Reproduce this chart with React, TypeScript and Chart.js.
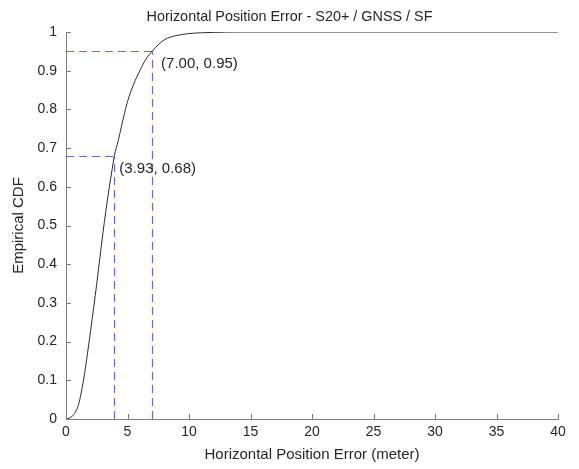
import React, { useEffect, useRef } from "react";
import { Chart, registerables } from "chart.js";

Chart.register(...registerables);

// ---- data ----
const errorMeters = [0, 0.25, 0.5, 0.75, 1, 1.25, 1.5, 1.75, 2, 2.25, 2.5, 2.75, 3, 3.25, 3.5, 3.75, 3.93, 4.25, 4.5, 5, 5.5, 6, 6.5, 7, 7.5, 8, 8.5, 9, 10, 11, 12, 14, 16, 20, 40];
const cdfValues = [0, 0.002, 0.007, 0.017, 0.035, 0.07, 0.115, 0.17, 0.228, 0.288, 0.35, 0.415, 0.48, 0.54, 0.595, 0.645, 0.68, 0.72, 0.755, 0.82, 0.865, 0.9, 0.93, 0.95, 0.967, 0.98, 0.987, 0.991, 0.996, 0.998, 0.999, 1, 1, 1, 1];
const markerX = [3.93, 7.0];
const markerY = [0.68, 0.95];
const xTickValues = [0, 5, 10, 15, 20, 25, 30, 35, 40];
const yTickValues = [0, 0.1, 0.2, 0.3, 0.4, 0.5, 0.6, 0.7, 0.8, 0.9, 1];

const TITLE = "Horizontal Position Error - S20+ / GNSS / SF";
const X_LABEL = "Horizontal Position Error (meter)";
const Y_LABEL = "Empirical CDF";

// ---- style ----
const FONT = "'Liberation Sans', Arial, Helvetica, sans-serif";
const TEXT_COLOR = "#262626";
const AXIS_COLOR = "#7a7a7a";
const CURVE_COLOR = "#2b2b2b";
const MARK_COLOR = "#6a6ad6";
const LABEL_OFFSETS = [
  { dx: 5, dy: 13 },
  { dx: 9, dy: 13 },
];

const overlay = {
  id: "overlay",
  beforeDatasetsDraw(chart: any) {
    const { ctx, scales } = chart;
    const x = scales.x;
    const y = scales.y;
    ctx.save();
    ctx.strokeStyle = MARK_COLOR;
    ctx.lineWidth = 1.2;
    ctx.setLineDash([8, 5]);
    for (let i = 0; i < markerX.length; i++) {
      const px = Math.round(x.getPixelForValue(markerX[i])) + 0.5;
      const py = Math.round(y.getPixelForValue(markerY[i])) + 0.5;
      const x0 = x.getPixelForValue(0);
      const y0 = y.getPixelForValue(0);
      ctx.beginPath();
      ctx.moveTo(x0, py);
      ctx.lineTo(px, py);
      ctx.stroke();
      ctx.beginPath();
      ctx.moveTo(px, y0);
      ctx.lineTo(px, py);
      ctx.stroke();
    }
    ctx.restore();
  },
  afterDatasetsDraw(chart: any) {
    const { ctx, scales, chartArea, width } = chart;
    const x = scales.x;
    const y = scales.y;
    ctx.save();
    // inward tick marks
    ctx.strokeStyle = AXIS_COLOR;
    ctx.lineWidth = 1;
    xTickValues.forEach((v) => {
      const px = Math.round(x.getPixelForValue(v)) + 0.5;
      ctx.beginPath();
      ctx.moveTo(px, chartArea.bottom);
      ctx.lineTo(px, chartArea.bottom - 5);
      ctx.stroke();
    });
    yTickValues.forEach((v) => {
      const py = Math.round(y.getPixelForValue(v)) + 0.5;
      ctx.beginPath();
      ctx.moveTo(chartArea.left, py);
      ctx.lineTo(chartArea.left + 5, py);
      ctx.stroke();
    });
    // marker labels
    ctx.fillStyle = TEXT_COLOR;
    ctx.font = `15px ${FONT}`;
    ctx.textAlign = "left";
    ctx.textBaseline = "middle";
    for (let i = 0; i < markerX.length; i++) {
      const px = x.getPixelForValue(markerX[i]);
      const py = y.getPixelForValue(markerY[i]);
      const off = LABEL_OFFSETS[i];
      ctx.fillText(`(${markerX[i].toFixed(2)}, ${markerY[i].toFixed(2)})`, px + off.dx, py + off.dy);
    }
    // title (centred on the figure)
    ctx.font = `14.4px ${FONT}`;
    ctx.textAlign = "center";
    ctx.fillText(TITLE, width / 2, 17);
    ctx.restore();
  },
};

export default function App() {
  const canvasRef = useRef<HTMLCanvasElement | null>(null);

  useEffect(() => {
    document.body.style.margin = "0";
    const canvas = canvasRef.current;
    if (!canvas) return;
    const points = errorMeters.map((e, i) => ({ x: e, y: cdfValues[i] }));
    const chart = new Chart(canvas, {
      type: "line",
      data: {
        datasets: [
          {
            data: points,
            borderColor: CURVE_COLOR,
            borderWidth: 1,
            pointRadius: 0,
            cubicInterpolationMode: "monotone",
            fill: false,
          },
        ],
      },
      options: {
        animation: false,
        responsive: true,
        maintainAspectRatio: false,
        layout: { padding: { left: 0, right: 21, top: 32, bottom: 0 } },
        plugins: {
          legend: { display: false },
          tooltip: { enabled: false },
          title: { display: false },
        },
        scales: {
          x: {
            type: "linear",
            min: 0,
            max: 40,
            afterFit: (s: any) => {
              s.height = 50;
            },
            afterBuildTicks: (s: any) => {
              s.ticks = xTickValues.map((v) => ({ value: v }));
            },
            grid: { display: false, drawTicks: false },
            border: { display: true, color: AXIS_COLOR, width: 1 },
            ticks: {
              color: TEXT_COLOR,
              font: { family: FONT, size: 14 },
              padding: 5,
              maxRotation: 0,
            },
            title: {
              display: true,
              text: X_LABEL,
              color: TEXT_COLOR,
              font: { family: FONT, size: 15 },
              padding: { top: 0, bottom: 5 },
            },
          },
          y: {
            type: "linear",
            min: 0,
            max: 1,
            afterFit: (s: any) => {
              s.width = 66;
            },
            afterBuildTicks: (s: any) => {
              s.ticks = yTickValues.map((v) => ({ value: v }));
            },
            grid: { display: false, drawTicks: false },
            border: { display: true, color: AXIS_COLOR, width: 1 },
            ticks: {
              color: TEXT_COLOR,
              font: { family: FONT, size: 14 },
              padding: 9,
              callback: (v: any) => String(Number(Number(v).toFixed(1))),
            },
            title: {
              display: true,
              text: Y_LABEL,
              color: TEXT_COLOR,
              font: { family: FONT, size: 15 },
              padding: { top: 10, bottom: 0 },
            },
          },
        },
      },
      plugins: [overlay],
    } as any);
    return () => chart.destroy();
  }, []);

  return (
    <div style={{ position: "relative", width: 579, height: 469, background: "#fff" }}>
      <canvas ref={canvasRef} />
    </div>
  );
}
